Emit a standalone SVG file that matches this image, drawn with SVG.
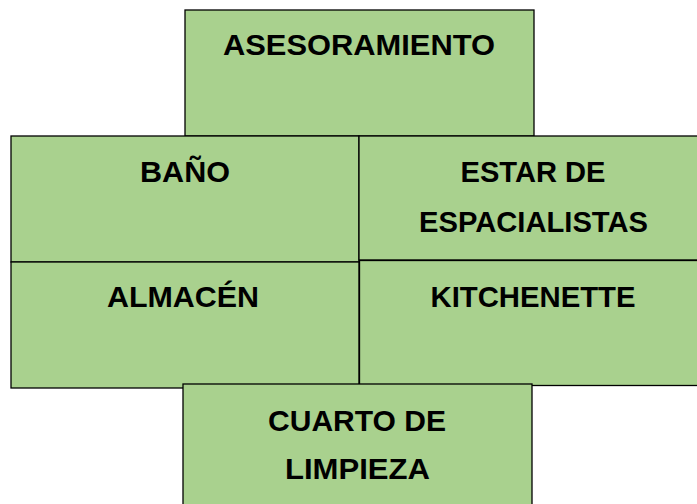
<svg xmlns="http://www.w3.org/2000/svg" width="697" height="504" viewBox="0 0 697 504">
<style>
.box{fill:#A9D18E;stroke:#000;stroke-width:1.3}
.t{font-family:"Liberation Sans",Arial,sans-serif;font-weight:bold;font-size:30px;fill:#000;text-anchor:middle}
</style>
<rect width="697" height="504" fill="#fff"/>
<g id="asesoramiento"><rect class="box" x="185" y="10" width="349" height="126"/><text class="t" x="359" y="55" textLength="272" lengthAdjust="spacingAndGlyphs">ASESORAMIENTO</text></g>
<g id="bano"><rect class="box" x="11" y="136" width="348" height="126"/><text class="t" x="185" y="182" textLength="90" lengthAdjust="spacingAndGlyphs">BAÑO</text></g>
<g id="estar"><rect class="box" x="359" y="136" width="345" height="124"/><text class="t" x="533" y="182" textLength="145" lengthAdjust="spacingAndGlyphs">ESTAR DE</text><text class="t" x="533.5" y="231.5" textLength="229" lengthAdjust="spacingAndGlyphs">ESPACIALISTAS</text></g>
<g id="almacen"><rect class="box" x="11" y="262" width="348" height="126"/><text class="t" x="183" y="307" textLength="152" lengthAdjust="spacingAndGlyphs">ALMACÉN</text></g>
<g id="kitchenette"><rect class="box" x="359.5" y="260.5" width="345" height="125"/><text class="t" x="533" y="306.5" textLength="205" lengthAdjust="spacingAndGlyphs">KITCHENETTE</text></g>
<g id="cuarto"><rect class="box" x="183" y="384" width="349" height="130"/><text class="t" x="357" y="431" textLength="178" lengthAdjust="spacingAndGlyphs">CUARTO DE</text><text class="t" x="357.5" y="479" textLength="145" lengthAdjust="spacingAndGlyphs">LIMPIEZA</text></g>
<g id="connectors"></g>
</svg>
